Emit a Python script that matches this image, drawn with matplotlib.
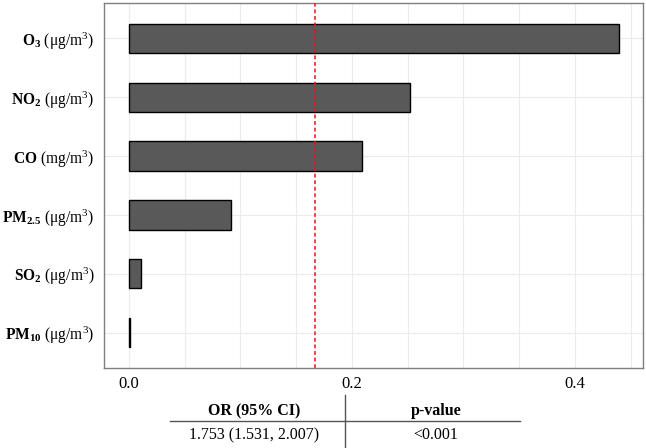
import matplotlib.pyplot as plt
from matplotlib.lines import Line2D
from matplotlib.ticker import MultipleLocator
import numpy as np

plt.rcParams['font.family'] = ['Liberation Serif', 'DejaVu Serif']
plt.rcParams['mathtext.fontset'] = 'custom'
plt.rcParams['mathtext.rm'] = 'Liberation Serif'
plt.rcParams['mathtext.bf'] = 'Liberation Serif:bold'
plt.rcParams['mathtext.it'] = 'Liberation Serif:italic'

labels = [r'$\mathbf{O}_{\mathbf{3}}$ (μg/m$^{3}$)',
          r'$\mathbf{NO}_{\mathbf{2}}$ (μg/m$^{3}$)',
          r'$\mathbf{CO}$ (mg/m$^{3}$)',
          r'$\mathbf{PM}_{\mathbf{2.5}}$ (μg/m$^{3}$)',
          r'$\mathbf{SO}_{\mathbf{2}}$ (μg/m$^{3}$)',
          r'$\mathbf{PM}_{\mathbf{10}}$ (μg/m$^{3}$)']
weights = [0.4395, 0.252, 0.209, 0.0915, 0.0108, 0.001]
ref_line = 0.167

table_header = ['OR (95% CI)', 'p-value']
table_row = ['1.753 (1.531, 2.007)', '<0.001']

fig = plt.figure(figsize=(6.46, 4.48), dpi=100)
ax = fig.add_axes([0.161, 0.179, 0.834, 0.814])

ypos = np.arange(len(labels))[::-1]
ax.barh(ypos, weights, height=0.5, color='#595959', edgecolor='black',
        linewidth=1.0, zorder=3)
ax.axvline(ref_line, color='#e8141a', linestyle=(0, (2.5, 1.8)), linewidth=1.1, zorder=4)

ax.set_xlim(-0.0224, 0.461)
ax.set_ylim(-0.6, len(labels) - 0.4)
ax.set_yticks(ypos)
ax.set_yticklabels(labels, fontsize=11.2)
ax.xaxis.set_major_locator(MultipleLocator(0.2))
ax.xaxis.set_minor_locator(MultipleLocator(0.05))
ax.set_xticklabels(['{:.1f}'.format(v) for v in ax.get_xticks()])
ax.tick_params(axis='x', labelsize=12, length=0, which='both', pad=6)
ax.tick_params(axis='y', length=0, pad=7)
ax.grid(True, which='both', axis='x', color='#ebebeb', linewidth=0.8, zorder=0)
ax.grid(True, which='major', axis='y', color='#ebebeb', linewidth=0.8, zorder=0)
for s in ax.spines.values():
    s.set_color('#7f7f7f')
    s.set_linewidth(1.0)

# table below the chart
W, H = 646.0, 448.0
col_x = [254, 436]
fig.text(col_x[0] / W, 1 - 411 / H, table_header[0], ha='center', va='center',
         fontsize=11.5, fontweight='bold')
fig.text(col_x[1] / W, 1 - 411 / H, table_header[1], ha='center', va='center',
         fontsize=11.5, fontweight='bold')
fig.text(col_x[0] / W, 1 - 435 / H, table_row[0], ha='center', va='center', fontsize=11.5)
fig.text(col_x[1] / W, 1 - 435 / H, table_row[1], ha='center', va='center', fontsize=11.5)
fig.add_artist(Line2D([170 / W, 520 / W], [1 - 421 / H, 1 - 421 / H],
                      color='#555555', linewidth=1.0))
fig.add_artist(Line2D([345 / W, 345 / W], [1 - 395 / H, 1 - 448 / H],
                      color='#555555', linewidth=1.0))

fig.savefig('out.png', dpi=100)
